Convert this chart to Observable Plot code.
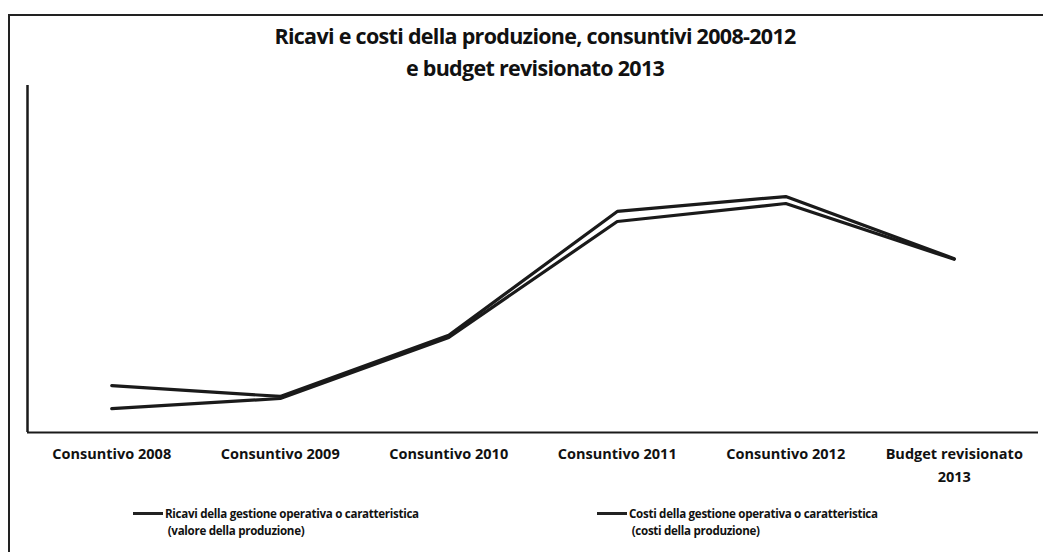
<!DOCTYPE html>
<html>
<head>
<meta charset="utf-8">
<script src="https://cdn.jsdelivr.net/npm/d3@7"></script>
<script src="https://cdn.jsdelivr.net/npm/@observablehq/plot@0.6"></script>
<style>
  html, body { margin: 0; padding: 0; background: #fff; }
  #wrap { position: relative; width: 1043px; height: 552px; overflow: hidden; font-family: "Open Sans", "DejaVu Sans", sans-serif; color: #111; }
  #border { position: absolute; left: 8px; top: 14px; width: 1100px; height: 600px; border-left: 2px solid #222; border-top: 2px solid #222; }
  #title { position: absolute; left: 0; top: 20px; width: 1070px; text-align: center; font-weight: 700; font-size: 21.5px; line-height: 32px; letter-spacing: -0.7px; }
  #chart { position: absolute; left: 0; top: 85px; }
  .leg { position: absolute; font-size: 11.6px; font-weight: 700; line-height: 17px; letter-spacing: -0.3px; }
  .leg .sw { position: absolute; left: 0; top: 7px; width: 30px; height: 3px; background: #222; }
  .leg .tx { position: absolute; left: 32px; top: 0; white-space: nowrap; }
</style>
</head>
<body>
<div id="wrap">
  <div id="border"></div>
  <div id="title">Ricavi e costi della produzione, consuntivi 2008-2012<br>e budget revisionato 2013</div>
  <div id="chart"></div>
  <div class="leg" style="left:133px; top:505px;"><div class="sw"></div><div class="tx">Ricavi della gestione operativa o caratteristica<br>&nbsp;(valore della produzione)</div></div>
  <div class="leg" style="left:597px; top:505px;"><div class="sw"></div><div class="tx">Costi della gestione operativa o caratteristica<br>&nbsp;(costi della produzione)</div></div>
</div>
<script>
const categories = ["Consuntivo 2008", "Consuntivo 2009", "Consuntivo 2010", "Consuntivo 2011", "Consuntivo 2012", "Budget revisionato\n2013"];
const ricavi = [13.5, 10.4, 28.0, 63.7, 68.0, 50.1];
const costi = [6.9, 9.8, 27.4, 60.8, 66.0, 49.9];
const seriesNames = ["Ricavi della gestione operativa o caratteristica (valore della produzione)", "Costi della gestione operativa o caratteristica (costi della produzione)"];

const data = [];
categories.forEach((c, i) => {
  data.push({i, cat: c, value: ricavi[i], series: seriesNames[0]});
  data.push({i, cat: c, value: costi[i], series: seriesNames[1]});
});

const chart = Plot.plot({
  width: 1043,
  height: 417,
  marginLeft: 27,
  marginRight: 5,
  marginTop: 0,
  marginBottom: 70,
  style: {fontFamily: "'Open Sans', 'DejaVu Sans', sans-serif", background: "transparent", color: "#111"},
  x: {domain: [-0.5, 5.5], axis: null},
  y: {domain: [0, 100], axis: null},
  marks: [
    Plot.lineY(data, {x: "i", y: "value", z: "series", stroke: "#1a1a1a", strokeWidth: 3.2, strokeLinejoin: "round", strokeLinecap: "round"}),
    Plot.ruleY([0], {stroke: "#1a1a1a", strokeWidth: 2}),
    Plot.ruleX([-0.5], {stroke: "#1a1a1a", strokeWidth: 2.5}),
    Plot.axisX({ticks: d3.range(categories.length), tickFormat: i => categories[i], tickSize: 0, tickPadding: 10, fontSize: 14.5, fontWeight: 700, lineHeight: 1.6, anchor: "bottom", label: null, letterSpacing: "-0.4px"})
  ]
});
document.getElementById("chart").appendChild(chart);
</script>
</body>
</html>
